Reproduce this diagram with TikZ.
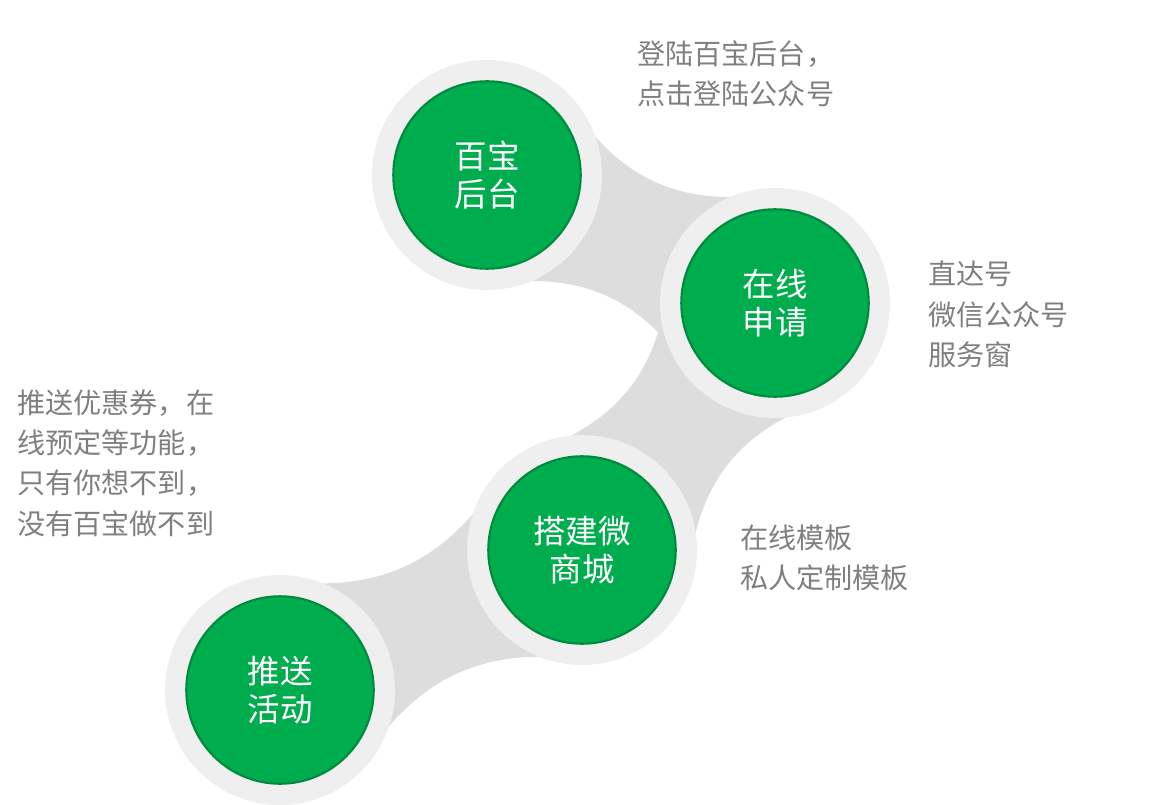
\documentclass[tikz,border=0pt]{standalone}
\usepackage{fontspec}
\setmainfont{Noto Sans CJK SC}
\usetikzlibrary{calc}
\definecolor{mygreen}{HTML}{00AD4E}
\definecolor{myring}{HTML}{EFEFEF}
\definecolor{myband}{HTML}{DDDDDD}
\definecolor{mytext}{HTML}{7F7F7F}
\tikzset{
  ring/.style={circle,fill=myring,minimum size=4.6cm,inner sep=0pt},
  stage/.style={circle,fill=mygreen,draw=mygreen!80!black,line width=1.2pt,minimum size=3.75cm,
    inner sep=0pt,text=white,align=center,font=\fontsize{18.5}{21.5}\selectfont},
  note/.style={anchor=north west,align=left,text=mytext,inner sep=0pt,font=\fontsize{16}{23}\selectfont},
}
\newcommand{\band}[2]{%
  \fill[myband] ($(#1)!2.2cm!52:(#2)$) to[bend right=28] ($(#2)!2.2cm!-52:(#1)$)
    -- ($(#2)!2.2cm!52:(#1)$) to[bend right=28] ($(#1)!2.2cm!-52:(#2)$) -- cycle;}
\begin{document}
\begin{tikzpicture}[x=0.02cm,y=-0.02cm]
  \useasboundingbox (0,0) rectangle (1162,804);
  % centres
  \coordinate (c1) at (487,175);
  \coordinate (c2) at (775,303);
  \coordinate (c3) at (582,550);
  \coordinate (c4) at (280,690);
  % connectors
  \band{c1}{c2}
  \band{c2}{c3}
  \band{c3}{c4}
  % rings and stages
  \foreach \c in {c1,c2,c3,c4} \node[ring] at (\c) {};
  \node[stage] (houtai) at (c1) {百宝\\后台};
  \node[stage] (shenqing) at (c2) {在线\\申请};
  \node[stage] (shangcheng) at (c3) {搭建微\\商城};
  \node[stage] (huodong) at (c4) {推送\\活动};
  % notes
  \node[note] (n1) at (637,40) {登陆百宝后台，\\点击登陆公众号};
  \node[note] (n2) at (928,261) {直达号\\微信公众号\\服务窗};
  \node[note] (n3) at (740,524) {在线模板\\私人定制模板};
  \node[note] (n4) at (17,389) {推送优惠券，在\\线预定等功能，\\只有你想不到，\\没有百宝做不到};
\end{tikzpicture}
\end{document}
